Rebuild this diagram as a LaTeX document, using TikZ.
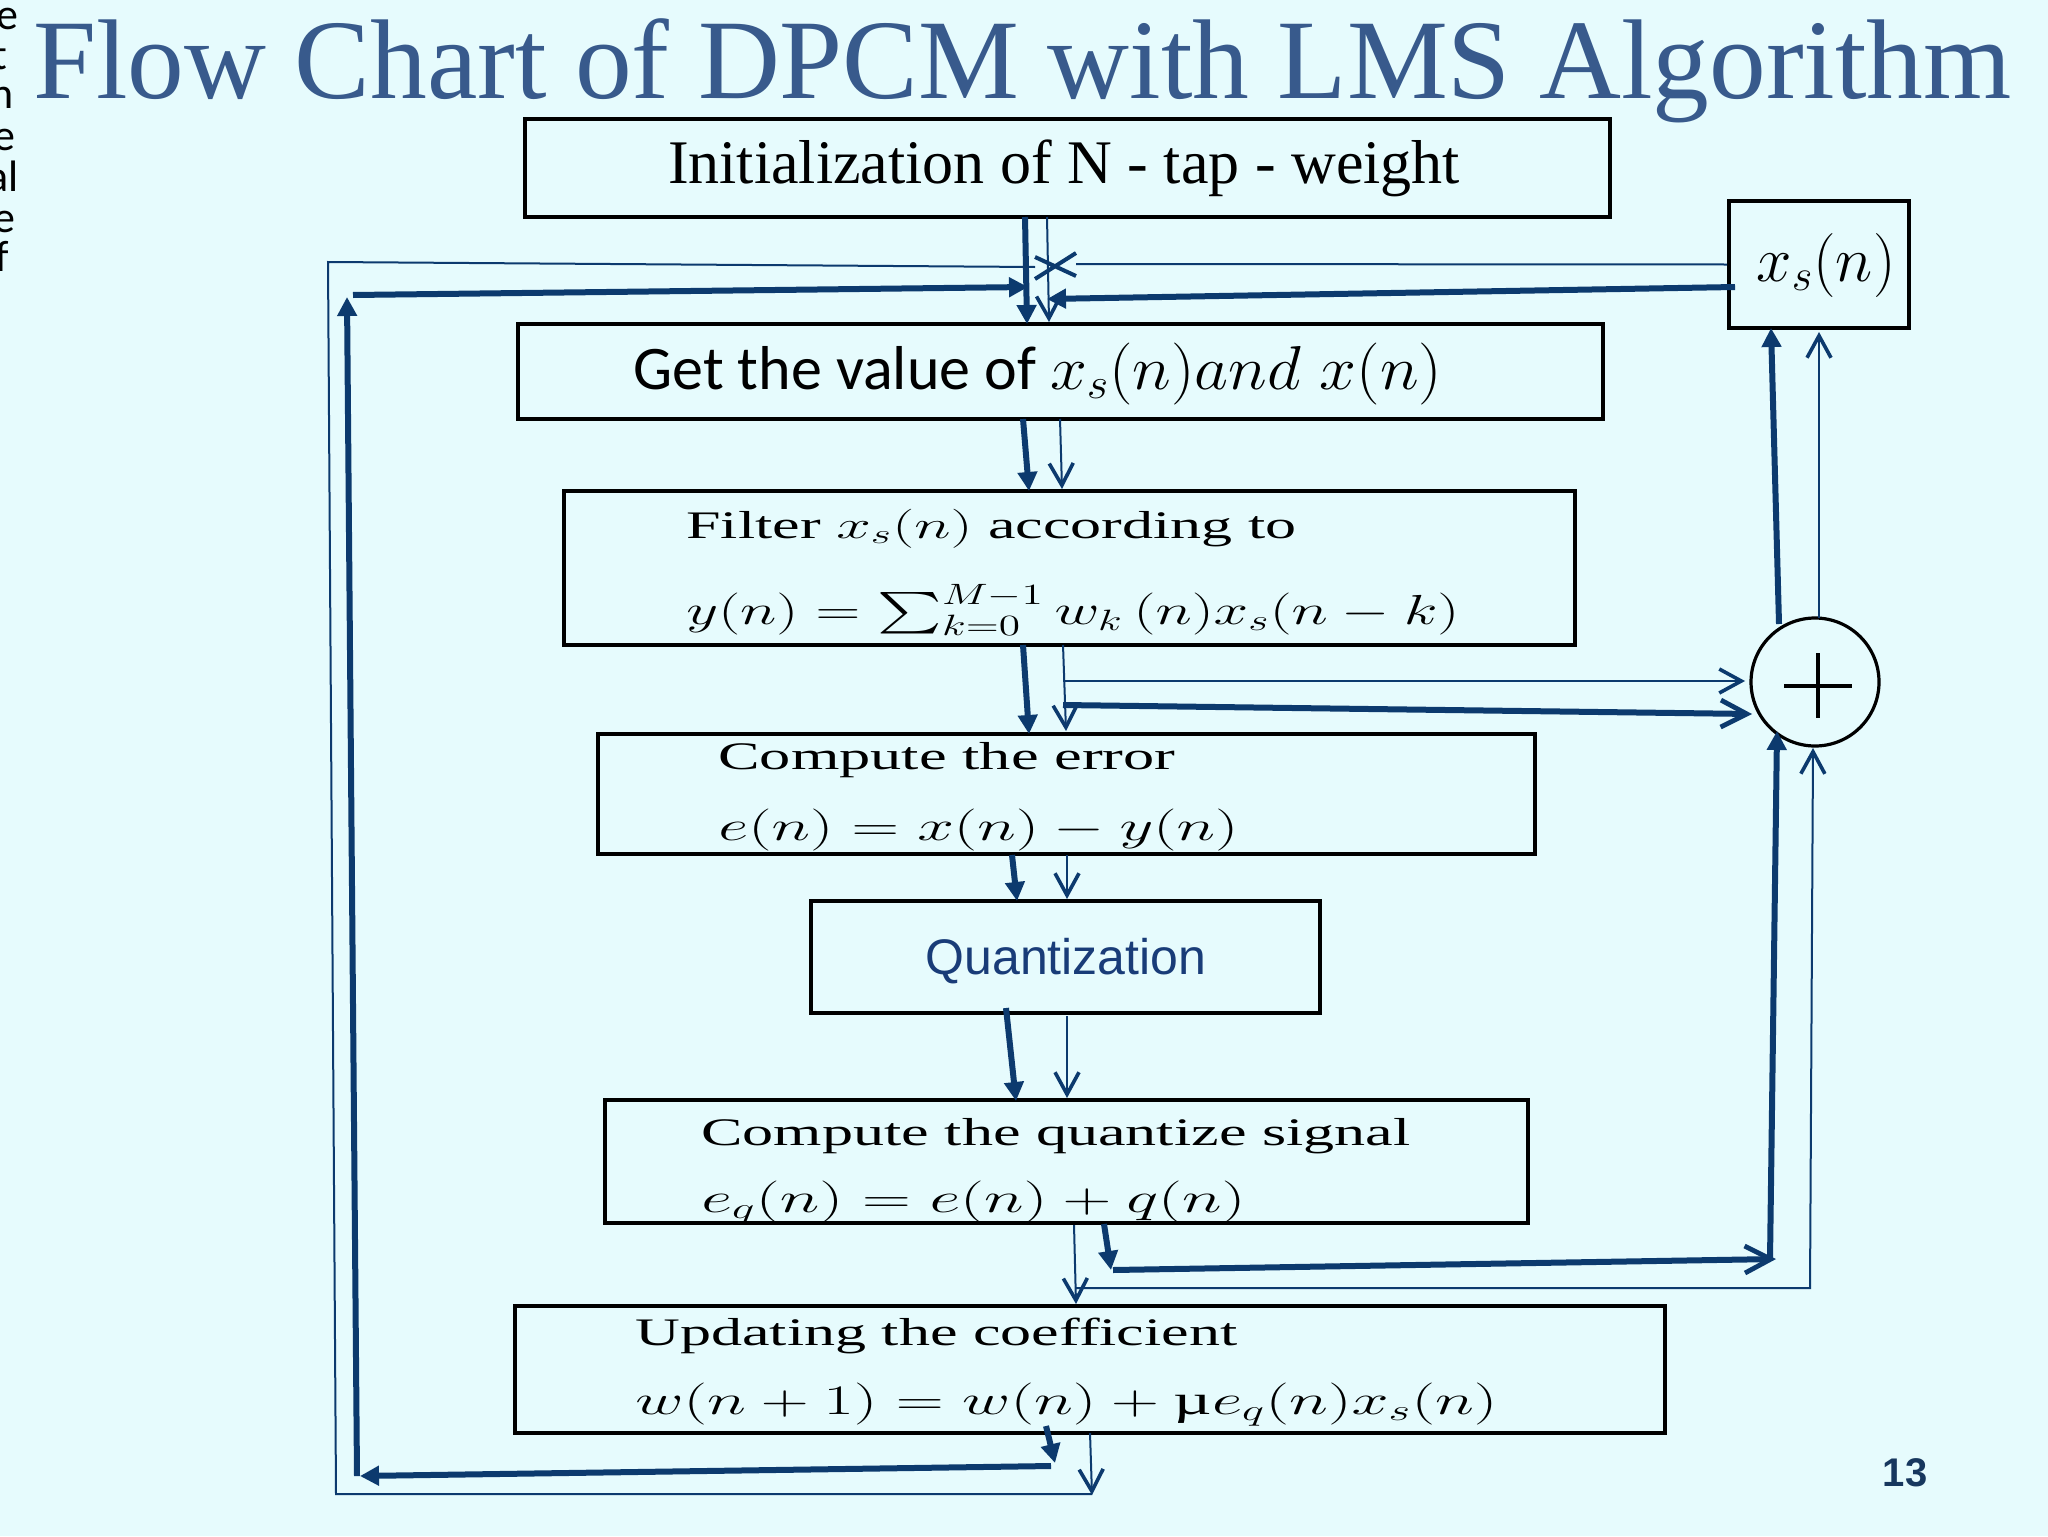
\RequirePackage{fix-cm}
\documentclass[tikz,border=0pt]{standalone}
\usepackage{amsmath}
\usepackage{graphicx}
\usepackage{fontspec}
\setmainfont{Liberation Serif}
\newfontfamily\calib{Carlito}
\newfontfamily\arialf{Liberation Sans}
\usetikzlibrary{arrows.meta,calc}
\definecolor{bgc}{RGB}{230,251,253}
\definecolor{navy}{RGB}{12,58,110}
\definecolor{titlec}{RGB}{56,90,140}
\definecolor{quantc}{RGB}{25,60,120}
\definecolor{numc}{RGB}{23,55,94}
\newcommand{\wideline}[2]{\resizebox{#1}{\height}{#2}}
\tikzset{
  box/.style={draw=black, line width=1.8pt, rectangle, inner sep=0pt},
  thk/.style={draw=navy, line width=3pt},
  thn/.style={draw=navy, line width=1pt},
  fhead/.style={-{Triangle[length=9.5pt,width=9.5pt]}},
  vhead/.style={-{Straight Barb[length=11pt,width=12pt,line width=1.8pt]}},
  vbig/.style={-{Straight Barb[length=13pt,width=13.5pt,line width=2.4pt]}},
  txt/.style={inner sep=0pt, anchor=base west, font=\fontsize{31}{37}\selectfont},
  wtxt/.style={inner sep=0pt, anchor=base west, font=\fontsize{19.5}{23}\selectfont},
  wmath/.style={inner sep=0pt, anchor=base west, font=\fontsize{21}{25}\selectfont},
  edge/.style={inner sep=0pt, anchor=base east, font=\calib\fontsize{22}{26}\selectfont},
}
\begin{document}
\begin{tikzpicture}[x=0.5pt,y=-0.5pt]
\fill[bgc] (0,0) rectangle (2048,1536);
\useasboundingbox (0,0) rectangle (2048,1536);

% clipped text at the left edge
\node[edge] (e1) at (19,30) {e};
\node[edge] (e2) at (8,69) {t};
\node[edge] (e3) at (14,109) {h};
\node[edge] (e4) at (16,150) {e};
\node[edge] (e5) at (19,191) {al};
\node[edge] (e6) at (16,232) {e};
\node[edge] (e7) at (9,271) {f};

% title
\node[inner sep=0pt, anchor=base west, text=titlec, font=\fontsize{56.7}{60}\selectfont] (title) at (33,98) {Flow Chart of DPCM with LMS Algorithm};

% boxes
\node[box, minimum width=542.5pt, minimum height=49pt] (b1) at (1067.5,168) {};
\node[box, minimum width=542.5pt, minimum height=47.5pt] (b2) at (1060.5,371.5) {};
\node[box, minimum width=505.5pt, minimum height=77pt] (b3) at (1069.5,568) {};
\node[box, minimum width=468.5pt, minimum height=60pt] (b4) at (1066.5,794) {};
\node[box, minimum width=254.5pt, minimum height=56pt] (b5) at (1065.5,957) {};
\node[box, minimum width=461.5pt, minimum height=61.5pt] (b6) at (1066.5,1161.5) {};
\node[box, minimum width=575pt, minimum height=63.5pt] (b7) at (1090,1369.5) {};
\node[box, minimum width=90pt, minimum height=63.5pt] (xs) at (1819,264.5) {};
\node[circle, draw=black, line width=1.6pt, minimum size=64pt, inner sep=0pt] (sum) at (1815,682) {};
\draw[black, line width=1.6pt] ($(sum)+(-31,4)$) -- ($(sum)+(37,4)$);
\draw[black, line width=1.6pt] ($(sum)+(3,-29)$) -- ($(sum)+(3,36)$);

% texts
\node[txt, anchor=base] (t1) at (1064,183) {Initialization of N - tap - weight};
\node[txt, font=\calib\fontsize{31}{37}\selectfont] (t2) at (633,389) {Get the value of \wideline{196pt}{$x_s(n)and\;x(n)$}};
\node[wtxt] (t3a) at (686,538) {\wideline{305pt}{Filter $x_s(n)$ according to}};
\node[wmath] (t3b) at (686,624) {\wideline{386.5pt}{$y(n)=\sum_{k=0}^{M-1}w_k\,(n)x_s(n-k)$}};
\node[wtxt] (t4a) at (718,769) {\wideline{228.5pt}{Compute the error}};
\node[wmath] (t4b) at (718,840) {\wideline{260pt}{$e(n)=x(n)-y(n)$}};
\node[inner sep=0pt, text=quantc, font=\arialf\fontsize{25}{30}\selectfont] (t5) at (1066,961) {Quantization};
\node[wtxt] (t6a) at (701,1145) {\wideline{354.5pt}{Compute the quantize signal}};
\node[wmath] (t6b) at (701,1212) {\wideline{272pt}{$e_q(n)=e(n)+q(n)$}};
\node[wtxt] (t7a) at (635,1345) {\wideline{301pt}{Updating the coefficient}};
\node[wmath] (t7b) at (635,1414) {\wideline{431pt}{$w(n+1)=w(n)+\mbox{µ}e_q(n)x_s(n)$}};
\node[inner sep=0pt, anchor=base, font=\fontsize{32}{38}\selectfont] (txs) at (1826,281) {\wideline{69.5pt}{$x_s(n)$}};
\node[inner sep=0pt, text=numc, font=\arialf\bfseries\fontsize{20}{24}\selectfont] (pg) at (1905,1473) {13};

% coordinates
\coordinate (a1) at (1025,217);   \coordinate (a2) at (1027,324);
\coordinate (l1) at (353,295);    \coordinate (l2) at (1028,287);
\coordinate (v1) at (357,1476);   \coordinate (v2) at (347,297);
\coordinate (r1) at (1735,287);   \coordinate (r2) at (1047,299);
\coordinate (c1) at (1023,419);   \coordinate (c2) at (1029,491);
\coordinate (d1) at (1023,645);   \coordinate (d2) at (1029,734);
\coordinate (f1) at (1012,855);   \coordinate (f2) at (1017,901);
\coordinate (g1) at (1006,1008);  \coordinate (g2) at (1016,1101);
\coordinate (h1) at (1104,1224);  \coordinate (h2) at (1111,1270);
\coordinate (h3) at (1113,1270);  \coordinate (h4) at (1776,1259);
\coordinate (k1) at (1770,1259);  \coordinate (k2) at (1777,731);
\coordinate (m1) at (1779,624);   \coordinate (m2) at (1771,328);
\coordinate (n1) at (1046,1426);  \coordinate (n2) at (1055,1463);
\coordinate (p1) at (1051,1466);  \coordinate (p2) at (360,1476);
\coordinate (q1) at (1063,705);   \coordinate (q2) at (1752,714);
% thin
\coordinate (s1) at (1047,217);   \coordinate (s2) at (1049,322);
\coordinate (xl) at (1035,267);   \coordinate (tl) at (328,262);
\coordinate (bl) at (336,1494);   \coordinate (br) at (1092,1494);
\coordinate (xr) at (1076,264);
\coordinate (u1) at (1090,1433);  \coordinate (u2) at (1092,1495);
\coordinate (w1) at (1060,419);   \coordinate (w2) at (1062,489);
\coordinate (y1) at (1063,645);   \coordinate (y2) at (1066,731);
\coordinate (y3) at (1063,681);   \coordinate (y4) at (1745,681);
\coordinate (z1) at (1067,855);   \coordinate (z2) at (1067,899);
\coordinate (o1) at (1067,1016);  \coordinate (o2) at (1067,1098);
\coordinate (j1) at (1074,1225);  \coordinate (j2) at (1076,1304);
\coordinate (j3) at (1076,1288);  \coordinate (j4) at (1810,1288);
\coordinate (j5) at (1813,748);
\coordinate (i1) at (1819,618);   \coordinate (i2) at (1819,332);
\coordinate (X1) at (1035,279);   \coordinate (X2) at (1076,253);
\coordinate (X3) at (1035,257);   \coordinate (X4) at (1076,276);

% thick connectors
\draw[thk, fhead] (a1) -- (a2);
\draw[thk, fhead] (l1) -- (l2);
\draw[thk, fhead] (v1) -- (v2);
\draw[thk, fhead] (r1) -- (r2);
\draw[thk, fhead] (c1) -- (c2);
\draw[thk, fhead] (d1) -- (d2);
\draw[thk, fhead] (f1) -- (f2);
\draw[thk, fhead] (g1) -- (g2);
\draw[thk, fhead] (h1) -- (h2);
\draw[thk, vbig] (h3) -- (h4);
\draw[thk, fhead] (k1) -- (k2);
\draw[thk, fhead] (m1) -- (m2);
\draw[thk, fhead] (n1) -- (n2);
\draw[thk, fhead] (p1) -- (p2);
\draw[thk, vbig] (q1) -- (q2);

% thin connectors
\draw[thn, vhead] (s1) -- (s2);
\draw[thn] (xl) -- (tl) -- (bl) -- (br);
\draw[thn] (xr) -- (xs.west);
\draw[thn, vhead] (u1) -- (u2);
\draw[thn, vhead] (w1) -- (w2);
\draw[thn, vhead] (y1) -- (y2);
\draw[thn, vhead] (y3) -- (y4);
\draw[thn, vhead] (z1) -- (z2);
\draw[thn, vhead] (o1) -- (o2);
\draw[thn, vhead] (j1) -- (j2);
\draw[thn, vhead] (j3) -- (j4) -- (j5);
\draw[thn, vhead] (i1) -- (i2);
\draw[navy, line width=2pt] (X1) -- (X2) (X3) -- (X4);
\end{tikzpicture}
\end{document}
